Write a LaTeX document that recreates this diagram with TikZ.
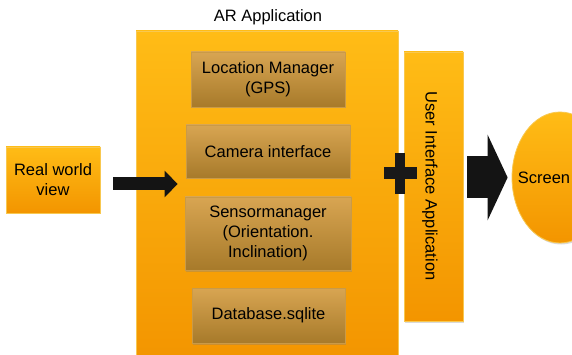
\documentclass[tikz,border=0pt]{standalone}
\usepackage{fontspec}
\setmainfont{Liberation Sans}
\usetikzlibrary{shadows,arrows.meta,shapes.geometric,calc}
\definecolor{otop}{HTML}{FFBC16}
\definecolor{obot}{HTML}{F39500}
\definecolor{oline}{HTML}{F8C850}
\definecolor{itop}{HTML}{D8A552}
\definecolor{ibot}{HTML}{A77A2A}
\definecolor{iline}{HTML}{C99A48}
\tikzset{
  txt/.style={font=\fontsize{16.5}{20}\selectfont, align=center, text=black},
  outerbox/.style={rectangle, draw=oline, line width=0.8pt, top color=otop, bottom color=obot, inner sep=0pt,
    drop shadow={shadow xshift=1pt, shadow yshift=-1.5pt, opacity=0.3}},
  innerbox/.style={rectangle, draw=iline, line width=0.8pt, top color=itop, bottom color=ibot, inner sep=0pt, txt,
    drop shadow={shadow xshift=1pt, shadow yshift=-1.5pt, opacity=0.35}},
  fatarrow/.style={draw=black!92, line cap=butt}
}
\begin{document}
\begin{tikzpicture}[x=1pt,y=-1pt]
\useasboundingbox (0,0) rectangle (572,355);
\clip (0,0) rectangle (572,355);
% title
\node[txt] (title) at (268,17) {AR Application};
% big box
\node[outerbox, minimum width=262pt, minimum height=329pt] (ar) at (267,195.5) {};
% inner boxes
\node[innerbox, minimum width=154pt, minimum height=55pt] (loc) at (268,79.5) {Location Manager\\(GPS)};
\node[innerbox, minimum width=164pt, minimum height=53pt] (cam) at (268,151.5) {Camera interface};
\node[innerbox, minimum width=166pt, minimum height=73pt] (sens) at (268,233.5) {Sensormanager\\(Orientation.\\Inclination)};
\node[innerbox, minimum width=153pt, minimum height=55pt] (db) at (268.5,315.5) {Database.sqlite};
% real world view
\node[outerbox, txt, minimum width=94pt, minimum height=66pt] (rw) at (53,180) {Real world\\view};
% UI box
\node[outerbox, minimum width=59pt, minimum height=269pt] (ui) at (433.5,186.5) {};
\node[txt, rotate=-90] (uitext) at (430,186) {User Interface Application};
% screen
\node[ellipse, draw=oline, line width=0.8pt, top color=otop, bottom color=obot, inner sep=0pt,
  minimum width=96pt, minimum height=131pt,
  drop shadow={shadow xshift=1pt, shadow yshift=-1.5pt, opacity=0.3}] (screen) at (560,177.5) {};
\node[txt] (screentext) at (544,178) {Screen};
% left arrow
\coordinate (a1) at ($(rw.east)+(13,4)$);
\coordinate (a2) at ($(ar.west)+(42,-11.5)$);
\draw[fatarrow, line width=13pt, -{Triangle[length=13pt,width=26pt]}] (a1) -- (a2);
% plus sign
\fill[black!90] (384,167) rectangle (417,179);
\fill[black!90] (395,153) rectangle (405,194);
% right arrow
\coordinate (b1) at ($(ui.east)+(4,-9)$);
\coordinate (b2) at ($(screen.west)+(-4,0)$);
\draw[fatarrow, line width=42pt, -{Triangle[length=20pt,width=85pt]}] (b1) -- (b2);
\end{tikzpicture}
\end{document}
